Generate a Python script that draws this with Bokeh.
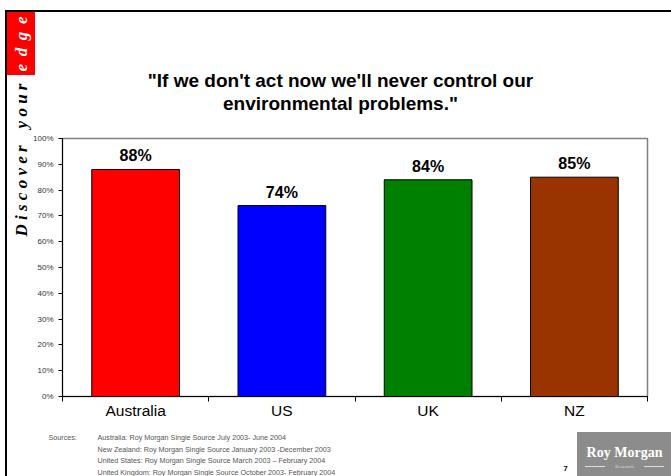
import math
from bokeh.plotting import figure
from bokeh.models import FixedTicker, NumeralTickFormatter, Range1d, InlineStyleSheet
from bokeh.core.properties import value
from bokeh.embed import file_html
from bokeh.resources import INLINE

# ---- data ----
categories = ["Australia", "US", "UK", "NZ"]
shares = [0.88, 0.74, 0.84, 0.85]
share_labels = ["88%", "74%", "84%", "85%"]
bar_colors = ["#FF0000", "#0000FF", "#008000", "#993300"]
y_ticks = [0.0, 0.1, 0.2, 0.3, 0.4, 0.5, 0.6, 0.7, 0.8, 0.9, 1.0]
title_lines = ["\"If we don't act now we'll never control our", "environmental problems.\""]
source_lines = [
    "Australia: Roy Morgan Single Source July 2003- June 2004",
    "New Zealand: Roy Morgan Single Source January 2003 -December 2003",
    "United States: Roy Morgan Single Source March 2003 \u2013 February 2004",
    "United Kingdom: Roy Morgan Single Source October 2003- February 2004",
]

W, H = 671, 476
FL, FR, FT, FB = 62, 647, 138, 396  # plot frame edges in page pixels
xpos = [i + 0.5 for i in range(len(categories))]

p = figure(width=W, height=H, output_backend="svg", toolbar_location=None,
           x_range=Range1d(0, len(categories)), y_range=Range1d(0, 1),
           min_border_left=FL, min_border_right=W - FR, min_border_top=FT, min_border_bottom=H - FB)
# page-pixel coordinate system for the slide decorations
p.extra_x_ranges = {"px": Range1d(FL, FR)}
p.extra_y_ranges = {"px": Range1d(FB, FT)}
p.background_fill_color = "white"
p.border_fill_color = None
p.outline_line_color = "#808080"
p.outline_line_width = 1.5
p.xgrid.visible = False
p.ygrid.visible = False

p.vbar(x=xpos, top=shares, width=0.6, fill_color=bar_colors, line_color="black", line_width=1)
p.text(x=xpos, y=shares, text=share_labels, text_align="center", text_baseline="bottom",
       y_offset=-5, text_font=value("Liberation Sans"), text_font_style="bold",
       text_font_size="16px", text_color="black")

# y axis
ya = p.yaxis[0]
ya.ticker = FixedTicker(ticks=y_ticks)
ya.formatter = NumeralTickFormatter(format="0%")
ya.major_label_text_font = "Liberation Sans"
ya.major_label_text_font_size = "8px"
ya.major_label_text_color = "#333333"
ya.major_tick_out = 4
ya.major_tick_in = 0
ya.minor_tick_line_color = None
ya.axis_line_color = "black"
ya.major_tick_line_color = "black"
ya.major_label_standoff = 5

# x axis
xa = p.xaxis[0]
xa.ticker = FixedTicker(ticks=xpos, minor_ticks=list(range(len(categories) + 1)))
xa.major_label_overrides = {x: c for x, c in zip(xpos, categories)}
xa.major_label_text_font = "Liberation Sans"
xa.major_label_text_font_size = "15.5px"
xa.major_label_text_color = "black"
xa.major_tick_line_color = None
xa.major_tick_out = 0
xa.major_tick_in = 0
xa.minor_tick_line_color = "black"
xa.minor_tick_out = 5
xa.minor_tick_in = 0
xa.axis_line_color = "black"
xa.major_label_standoff = 0


def lab(x, y, text, size, color="black", font="Liberation Sans", style="normal",
        align="left", baseline="middle", angle=0):
    p.text(x=[x], y=[y], text=[text], x_range_name="px", y_range_name="px", level="overlay",
           text_font=value(font), text_font_size=size, text_color=color,
           text_font_style=style, text_align=align, text_baseline=baseline, angle=angle)


# decorative slide rectangles (left, top, width, height, colour), drawn as page background
rects = [
    (585, 466, 20, 1, "#DDDDDD"),
    (644, 466, 20, 1, "#DDDDDD"),
    (577, 432, 94, 44, "#8C8C8C"),
    (5, 10, 2, 466, "#000000"),
    (5, 10, 666, 2, "#000000"),
    (7, 12, 28, 63, "#FF0000"),
]
layers = ", ".join(
    f"linear-gradient({c},{c}) {l}px {t}px / {w}px {h}px no-repeat" for (l, t, w, h, c) in rects
)
p.stylesheets = [InlineStyleSheet(css=f":host {{ background: {layers}, #FFFFFF; }}")]

# side text
NB = "\u00a0"
TH = "\u2009"
lab(21, 71, f"e{TH} d{TH} g{TH} e", "17px", color="white", font="Liberation Serif",
    style="bold italic", align="left", baseline="middle", angle=math.pi / 2)
lab(21, 236, f"D i s c o v e r{NB}{NB}{NB} y o u r", "17px", color="black",
    font="Liberation Serif", style="bold italic", align="left", baseline="middle",
    angle=math.pi / 2)

# title
lab(340, 80, title_lines[0], "19px", style="bold", align="center")
lab(340, 103, title_lines[1], "19px", style="bold", align="center")

# sources
lab(48, 437, "Sources:", "7.2px", color="#555555")
for i, s in enumerate(source_lines):
    lab(97, 437 + i * 11.7, s, "7.2px", color="#555555")
lab(563, 468, "7", "7.5px", style="bold")

# logo text
lab(624, 452, "Roy Morgan", "14px", color="white", font="Liberation Serif", style="bold", align="center")
lab(624, 466, "Research", "5px", color="#DDDDDD", font="Liberation Serif", align="center")

open("out.html", "w").write(file_html(p, INLINE))
